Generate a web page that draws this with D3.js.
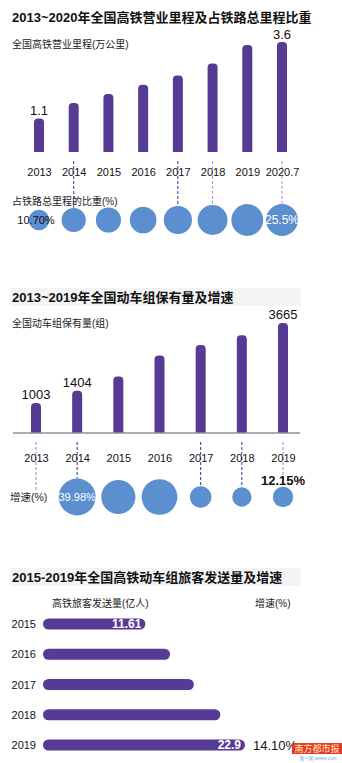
<!DOCTYPE html>
<html>
<head>
<meta charset="utf-8">
<script src="https://cdn.jsdelivr.net/npm/d3@7"></script>
<style>
  html, body { margin: 0; padding: 0; background: #fff; }
  svg { display: block; font-family: "Liberation Sans", "Noto Sans CJK SC", sans-serif; }
</style>
</head>
<body>
<svg id="chart" width="342" height="763"></svg>
<script>
// ---- Data ----
// Panel 1: high-speed rail operating length (10k km) and share of total rail length (%)
const hsrYears = ["2013", "2014", "2015", "2016", "2017", "2018", "2019", "2020.7"];
const hsrLength = [1.1, 1.6, 1.9, 2.2, 2.5, 2.9, 3.5, 3.6];
const hsrShare = [10.7, 14.6, 15.8, 17.7, 19.8, 22.3, 25.2, 25.5];
const hsrLinks = [
  { year: "2014", dark: true }, { year: "2017", dark: true },
  { year: "2018", dark: false }, { year: "2020.7", dark: false }
];

// Panel 2: EMU fleet size (sets) and growth (%)
const emuYears = ["2013", "2014", "2015", "2016", "2017", "2018", "2019"];
const emuFleet = [1003, 1404, 1883, 2586, 2935, 3256, 3665];
const emuGrowth = [null, 39.98, 34.1, 37.3, 13.5, 10.9, 12.15];
const emuLinks = [
  { year: "2013", dark: false, toLabel: true }, { year: "2014", dark: true },
  { year: "2017", dark: true }, { year: "2018", dark: true }, { year: "2019", dark: false }
];

// Panel 3: HSR/EMU passengers (100M trips)
const paxYears = ["2015", "2016", "2017", "2018", "2019"];
const paxTrips = [11.61, 14.4, 17.1, 20.1, 22.9];
const paxGrowthLast = "14.10%";

const purple = "#553b94";
const blue = "#5b8fd0";
const svg = d3.select("#chart");

// bar with rounded top corners
function topRoundedBar(x, y, w, h, r) {
  r = Math.min(r, w / 2, h);
  return `M${x},${y + h}V${y + r}Q${x},${y} ${x + r},${y}H${x + w - r}Q${x + w},${y} ${x + w},${y + r}V${y + h}Z`;
}

function title(y, text, band) {
  if (band) {
    svg.append("rect").attr("x", 10).attr("y", y - 9).attr("width", 291).attr("height", 18)
      .attr("fill", "#f4f4f4");
  }
  svg.append("text").attr("x", 12).attr("y", y).attr("dy", "0.36em")
    .attr("font-size", 13).attr("font-weight", "bold").attr("fill", "#111").text(text);
}
function note(x, y, text, size = 10, anchor = "start") {
  return svg.append("text").attr("x", x).attr("y", y).attr("dy", "0.36em")
    .attr("font-size", size).attr("fill", "#222").attr("text-anchor", anchor).text(text);
}

// ================= Panel 1 =================
title(17, "2013~2020年全国高铁营业里程及占铁路总里程比重", false);
note(12, 44, "全国高铁营业里程(万公里)");

const x1 = d3.scalePoint().domain(hsrYears).range([39, 282]);
const y1 = d3.scaleLinear().domain([0, 3.6]).range([152, 42]);
const r1 = d3.scaleSqrt().domain([0, 25.5]).range([0, 16]);
const bw1 = 10;
const circleY1 = 220;

// connectors from year labels to share circles
svg.append("g").selectAll("line").data(hsrLinks).join("line")
  .attr("x1", d => x1(d.year)).attr("x2", d => x1(d.year))
  .attr("y1", 161)
  .attr("y2", d => circleY1 - r1(hsrShare[hsrYears.indexOf(d.year)]))
  .attr("stroke", d => d.dark ? "#3b2a8a" : "#a493cf")
  .attr("stroke-width", 1).attr("stroke-dasharray", "3,2");

svg.append("g").selectAll("path").data(hsrLength).join("path")
  .attr("d", (d, i) => topRoundedBar(x1(hsrYears[i]) - bw1 / 2, y1(d), bw1, y1(0) - y1(d), 4))
  .attr("fill", purple);

const ax1 = svg.append("g").attr("transform", "translate(0,152)")
  .call(d3.axisBottom(x1).tickSize(0).tickPadding(16));
ax1.select(".domain").remove();
ax1.selectAll("text").attr("font-size", 11).attr("fill", "#111")
  .attr("font-family", "Liberation Sans, sans-serif");

[0, hsrLength.length - 1].forEach(i => {
  svg.append("text").attr("x", x1(hsrYears[i])).attr("y", y1(hsrLength[i]) - 3)
    .attr("text-anchor", "middle").attr("font-size", 13).attr("fill", "#111")
    .text(hsrLength[i].toFixed(1));
});

note(12, 201, "占铁路总里程的比重(%)", 10);

svg.append("g").selectAll("circle").data(hsrShare).join("circle")
  .attr("cx", (d, i) => x1(hsrYears[i])).attr("cy", circleY1)
  .attr("r", d => r1(d)).attr("fill", blue);

svg.append("text").attr("x", x1(hsrYears[0]) - 3).attr("y", circleY1).attr("dy", "0.36em")
  .attr("text-anchor", "middle").attr("font-size", 11).attr("fill", "#111")
  .text(hsrShare[0].toFixed(2) + "%");
svg.append("text").attr("x", x1(hsrYears[7])).attr("y", circleY1).attr("dy", "0.36em")
  .attr("text-anchor", "middle").attr("font-size", 12).attr("fill", "#fff")
  .text(hsrShare[7].toFixed(1) + "%");

// ================= Panel 2 =================
title(297, "2013~2019年全国动车组保有量及增速", true);
note(12, 323, "全国动车组保有量(组)");

const x2 = d3.scalePoint().domain(emuYears).range([36, 283]);
const y2 = d3.scaleLinear().domain([0, 3665]).range([433, 323]);
const r2 = d3.scaleSqrt().domain([0, 39.98]).range([0, 18.5]);
const bw2 = 10;
const circleY2 = 497;

svg.append("g").selectAll("line").data(emuLinks).join("line")
  .attr("x1", d => x2(d.year)).attr("x2", d => x2(d.year))
  .attr("y1", 442)
  .attr("y2", d => d.toLabel ? 491 : circleY2 - r2(emuGrowth[emuYears.indexOf(d.year)]))
  .attr("stroke", d => d.dark ? "#3b2a8a" : "#9a88c8")
  .attr("stroke-width", 1).attr("stroke-dasharray", "3,2");

svg.append("g").selectAll("path").data(emuFleet).join("path")
  .attr("d", (d, i) => topRoundedBar(x2(emuYears[i]) - bw2 / 2, y2(d), bw2, y2(0) - y2(d), 4))
  .attr("fill", purple);

const ax2 = svg.append("g").attr("transform", "translate(0,433)")
  .call(d3.axisBottom(x2).tickSize(0).tickPadding(21));
ax2.select(".domain").attr("d", "M13,0H300").attr("stroke", "#8f8f9a").attr("stroke-width", 1.5);
ax2.selectAll("text").attr("font-size", 11).attr("fill", "#111")
  .attr("font-family", "Liberation Sans, sans-serif");

[0, 1, 6].forEach(i => {
  svg.append("text").attr("x", x2(emuYears[i])).attr("y", y2(emuFleet[i]) - 4)
    .attr("text-anchor", "middle").attr("font-size", 13).attr("fill", "#111")
    .text(emuFleet[i]);
});

note(10, 497, "增速(%)", 10.5);

svg.append("g").selectAll("circle").data(emuGrowth.map((v, i) => ({ v, year: emuYears[i] })).filter(d => d.v != null))
  .join("circle")
  .attr("cx", d => x2(d.year)).attr("cy", circleY2)
  .attr("r", d => r2(d.v)).attr("fill", blue);

svg.append("text").attr("x", x2("2014")).attr("y", circleY2).attr("dy", "0.36em")
  .attr("text-anchor", "middle").attr("font-size", 11).attr("fill", "#fff")
  .text(emuGrowth[1].toFixed(2) + "%");
svg.append("text").attr("x", x2("2019")).attr("y", 480).attr("dy", "0.36em")
  .attr("text-anchor", "middle").attr("font-size", 13).attr("font-weight", "bold").attr("fill", "#111")
  .text(emuGrowth[6].toFixed(2) + "%");

// ================= Panel 3 =================
title(577, "2015-2019年全国高铁动车组旅客发送量及增速", true);
note(52, 603, "高铁旅客发送量(亿人)");
note(255, 603, "增速(%)");

const x3 = d3.scaleLinear().domain([0, 22.9]).range([43, 245]);
const y3 = d3.scalePoint().domain(paxYears).range([624, 745]);
const bh3 = 11;

svg.append("g").selectAll("rect").data(paxTrips).join("rect")
  .attr("x", x3(0)).attr("y", (d, i) => y3(paxYears[i]) - bh3 / 2)
  .attr("width", d => x3(d) - x3(0)).attr("height", bh3)
  .attr("rx", bh3 / 2).attr("fill", purple);

const ax3 = svg.append("g").attr("transform", "translate(43,0)")
  .call(d3.axisLeft(y3).tickSize(0).tickPadding(7));
ax3.select(".domain").remove();
ax3.selectAll("text").attr("font-size", 11).attr("fill", "#111")
  .attr("font-family", "Liberation Sans, sans-serif");

[0, 4].forEach(i => {
  svg.append("text").attr("x", x3(paxTrips[i]) - 4).attr("y", y3(paxYears[i])).attr("dy", "0.36em")
    .attr("text-anchor", "end").attr("font-size", 12).attr("font-weight", "bold").attr("fill", "#fff")
    .text(i === 0 ? paxTrips[i].toFixed(2) : paxTrips[i].toFixed(1));
});
svg.append("text").attr("x", 253).attr("y", y3("2019")).attr("dy", "0.36em")
  .attr("font-size", 13).attr("fill", "#111").text(paxGrowthLast);

// newspaper mark
svg.append("rect").attr("x", 292).attr("y", 743).attr("width", 50).attr("height", 11).attr("fill", "#e23a2a");
svg.append("text").attr("x", 317).attr("y", 748.5).attr("dy", "0.36em").attr("text-anchor", "middle")
  .attr("font-size", 9).attr("fill", "#ffe9a8").text("南方都市报");
svg.append("text").attr("x", 318).attr("y", 758.5).attr("dy", "0.36em").attr("text-anchor", "middle")
  .attr("font-size", 4.5).attr("fill", "#7aa6cf").text("奥一网 oeeee.com");
</script>
</body>
</html>
